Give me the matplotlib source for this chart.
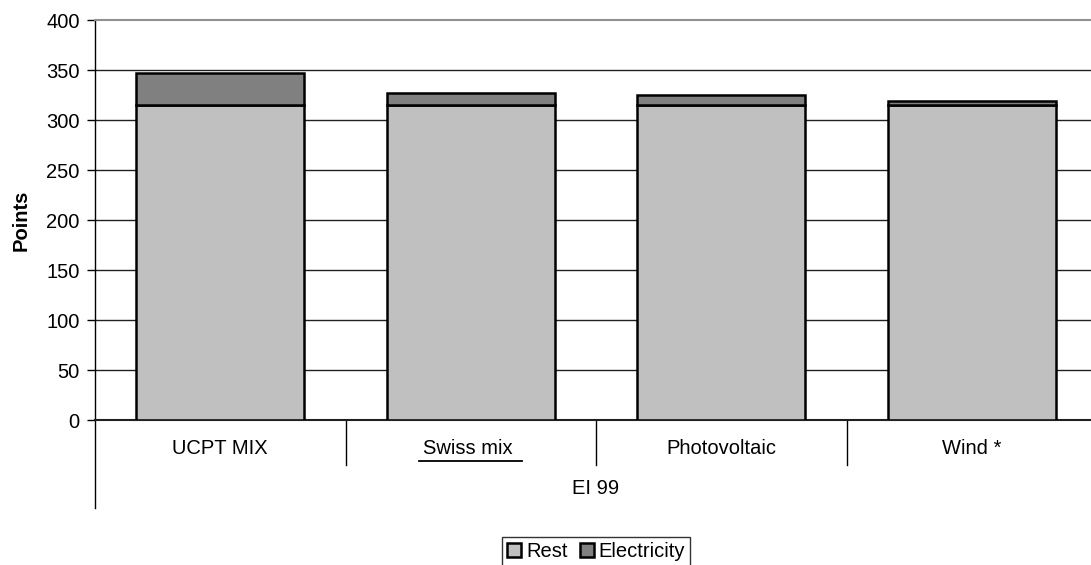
import matplotlib.pyplot as plt
import matplotlib.transforms as mtransforms
from matplotlib.patches import Patch
import numpy as np

plt.rcParams['font.family'] = ['Liberation Sans', 'DejaVu Sans']

# data
categories = ['UCPT MIX', 'Swiss mix ', 'Photovoltaic', 'Wind *']
rest = [315, 315, 315, 315]
electricity = [32, 12, 10, 4]
group_label = 'EI 99'

W, H = 1091, 565
fs = 14.5
fig = plt.figure(figsize=(W / 100, H / 100), dpi=100)
ax = fig.add_axes([95 / W, (H - 420) / H, (W - 95) / W, 400 / H])

x = np.arange(len(categories))
ax.bar(x, rest, width=0.67, color='#c0c0c0', edgecolor='black', linewidth=1.8, zorder=3, label='Rest')
ax.bar(x, electricity, bottom=rest, width=0.67, color='#808080', edgecolor='black',
       linewidth=1.8, zorder=3, label='Electricity')

ax.set_ylim(0, 400)
ax.set_xlim(-0.5, -0.5 + (W - 95) / 250.5)
ax.set_yticks(range(0, 401, 50))
ax.tick_params(axis='y', labelsize=fs, length=6, width=1, direction='out', pad=5)
ax.set_xticks([])
for v in range(50, 400, 50):
    ax.axhline(v, color='#202020', linewidth=1, zorder=1)

ax.spines['right'].set_visible(False)
ax.spines['top'].set_color('#909090')
ax.spines['top'].set_linewidth(1.5)
ax.spines['left'].set_linewidth(1)
ax.spines['bottom'].set_linewidth(1.5)
ax.spines['bottom'].set_color('#202020')

fig.text(21 / W, (H - 220) / H, 'Points', rotation=90, ha='center', va='center',
         fontsize=fs, fontweight='bold')

trans = mtransforms.blended_transform_factory(ax.transData, ax.transAxes)
for b in x[:-1] + 0.5:
    ax.plot([b, b], [0, -45 / 400], color='black', lw=1, transform=trans, clip_on=False)
ax.plot([-0.5, -0.5], [0, -88 / 400], color='black', lw=1, transform=trans, clip_on=False)

for i, c in enumerate(categories):
    ax.text(i, -29 / 400, c, transform=trans, ha='center', va='center', fontsize=fs)
    if c.startswith('Swiss'):
        ax.plot([i - 0.205, i + 0.205], [-41 / 400, -41 / 400], color='black', lw=1.3,
                transform=trans, clip_on=False)
ax.text(1.5, -68 / 400, group_label, transform=trans, ha='center', va='center', fontsize=fs)

handles = [Patch(facecolor='#c0c0c0', edgecolor='black', linewidth=1.8, label='Rest'),
           Patch(facecolor='#808080', edgecolor='black', linewidth=1.8, label='Electricity')]
leg = fig.legend(handles=handles, loc='upper center', bbox_to_anchor=(596 / W, (H - 537) / H), ncol=2,
                 fontsize=fs, handlelength=0.7, handleheight=0.7, handletextpad=0.25,
                 columnspacing=0.6, fancybox=False, borderpad=0.25, borderaxespad=0)
leg.get_frame().set_edgecolor('black')
leg.get_frame().set_linewidth(1)

fig.savefig('out.png', dpi=100)
